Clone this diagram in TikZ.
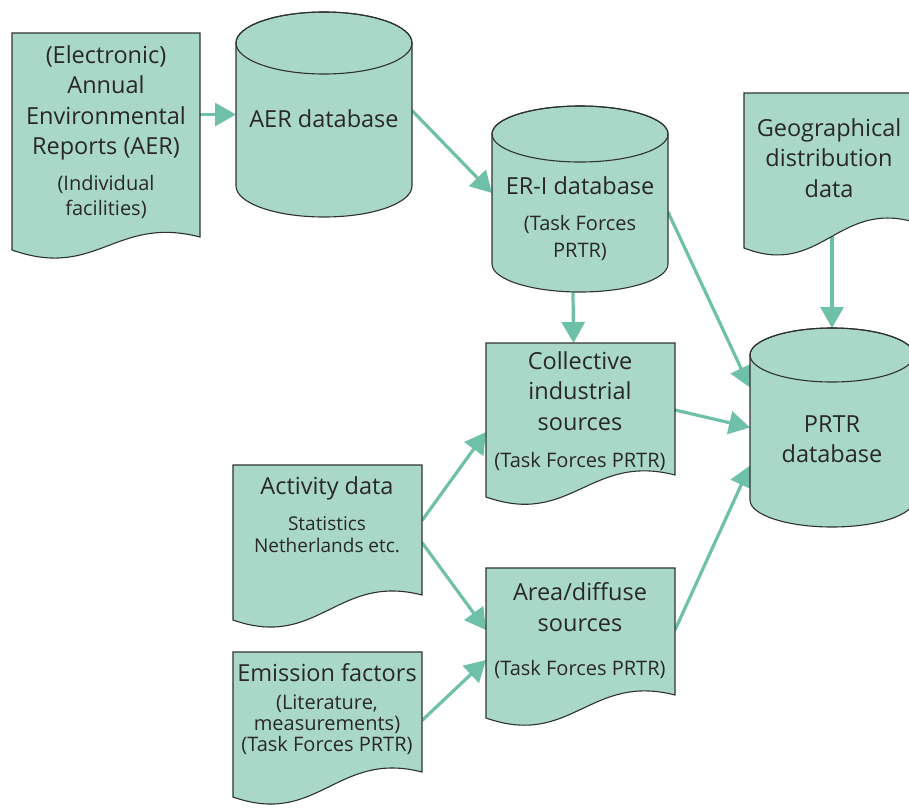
\documentclass[tikz,border=0pt]{standalone}
\usepackage{fontspec}
\setmainfont{Open Sans}
\usetikzlibrary{arrows.meta,calc,backgrounds}
\definecolor{fillc}{RGB}{170,216,200}
\definecolor{arrc}{RGB}{110,192,168}
\definecolor{linec}{RGB}{45,50,48}
\definecolor{textc}{RGB}{40,40,40}
\tikzset{
 hold/.style={inner sep=0,outer sep=0,draw=none,rectangle},
 shp/.style={fill=fillc,draw=linec,line width=1.1pt},
 main/.style={font=\fontsize{23.5}{30.5}\selectfont,align=center,text=textc,inner sep=0},
 sub/.style={font=\fontsize{20}{#1}\selectfont,align=center,text=textc,inner sep=0},
 sub/.default=24,
 arr/.style={draw=arrc,line width=3.2pt,-{Triangle[length=21pt,width=23pt]}},
}
\newcommand\mycyl[6]{%
 \pgfmathsetmacro\myCx{(#2+#3)/2}%
 \pgfmathsetmacro\myCy{(#4+#5)/2}%
 \pgfmathsetmacro\myRx{(#3-#2)/2}%
 \pgfmathsetmacro\myW{#3-#2}%
 \pgfmathsetmacro\myH{#5-#4}%
 \node[hold,minimum width=\myW pt,minimum height=\myH pt] (#1) at (\myCx,\myCy) {};
 \filldraw[shp] (#2,#4+#6) -- (#2,#5-#6) arc[start angle=180,end angle=0,x radius=\myRx,y radius=#6] -- (#3,#4+#6) arc[start angle=0,end angle=-180,x radius=\myRx,y radius=#6] -- cycle;
 \draw[shp,fill=none] (\myCx,#4+#6) ellipse[x radius=\myRx,y radius=#6];
}
\newcommand\mydoc[6]{%
 \pgfmathsetmacro\myCx{(#2+#3)/2}%
 \pgfmathsetmacro\myCy{(#4+#5)/2}%
 \pgfmathsetmacro\myW{#3-#2}%
 \pgfmathsetmacro\myH{#5-#4}%
 \pgfmathsetmacro\myPa{#3-0.45*\myW}%
 \pgfmathsetmacro\myPb{#2+0.45*\myW}%
 \node[hold,minimum width=\myW pt,minimum height=\myH pt] (#1) at (\myCx,\myCy) {};
 \filldraw[shp] (#2,#4) -- (#3,#4) -- (#3,#6) .. controls (\myPa,#6-22) and (\myPb,#5+30) .. (#2,#5) -- cycle;
}
\begin{document}
\begin{tikzpicture}[x=1pt,y=-1pt]
\useasboundingbox (0,0) rectangle (909,809);
\clip (0,0) rectangle (909,809);
\mydoc{aerdoc}{12}{200}{33}{250}{237}
\mycyl{aerdb}{236}{412}{12}{217}{31}
\mycyl{erdb}{492}{668}{106}{292}{28}
\mydoc{geo}{744}{914}{93}{248}{222}
\mycyl{prtr}{750}{914}{328}{527}{27}
\mydoc{coll}{486}{675}{343}{497}{475}
\mydoc{area}{486}{675}{568}{718}{695}
\mydoc{act}{233}{422}{465}{620}{595}
\mydoc{emis}{233}{422}{652}{797}{772}

\begin{scope}[on background layer]
\draw[arr] (aerdoc.east |- aerdb.west) -- (aerdb.west);
\draw[arr] ($(aerdb.east)+(0,-4)$) -- ($(erdb.west)+(0,-6)$);
\draw[arr] ($(erdb.south)+(-7,0)$) -- ($(coll.north)+(-7,0)$);
\draw[arr] ($(erdb.east)+(0,13)$) -- ($(prtr.west)+(0,-40)$);
\draw[arr] ($(coll.east)+(0,-10)$) -- (prtr.west);
\draw[arr] ($(area.east)+(0,-13)$) -- ($(prtr.west)+(0,38)$);
\draw[arr] ($(act.east)+(0,-22)$) -- ($(coll.west)+(0,12)$);
\draw[arr] (act.east) -- ($(area.west)+(0,-13)$);
\draw[arr] ($(emis.east)+(0,-4)$) -- ($(area.west)+(0,17)$);
\draw[arr] ($(prtr.north |- geo.south)+(0,-12)$) -- (prtr.north);
\end{scope}

\node[main] (t-aerdoc) at (106,103) {(Electronic)\\Annual\\Environmental\\Reports (AER)};
\node[sub=25] (s-aerdoc) at (106,197) {(Individual\\facilities)};
\node[main] (t-aerdb) at (324,119) {AER database};
\node[main] (t-erdb) at (580,186) {ER-I database};
\node[sub=27] (s-erdb) at (580,238) {(Task Forces\\PRTR)};
\node[main] (t-geo) at (829,158) {Geographical\\distribution\\data};
\node[main] (t-prtr) at (832,439) {PRTR\\database};
\node[main] (t-coll) at (580,391) {Collective\\industrial\\sources};
\node[sub] (s-coll) at (580,461) {(Task Forces PRTR)};
\node[main] (t-area) at (580,607) {Area/diffuse\\sources};
\node[sub] (s-area) at (580,669) {(Task Forces PRTR)};
\node[main] (t-act) at (327,488) {Activity data};
\node[sub=22,font=\fontsize{19}{22}\selectfont] (s-act) at (327,535) {Statistics\\Netherlands etc.};
\node[main] (t-emis) at (327,673) {Emission factors};
\node[sub=21] (s-emis) at (327,725) {(Literature,\\measurements)\\(Task Forces PRTR)};
\end{tikzpicture}
\end{document}
